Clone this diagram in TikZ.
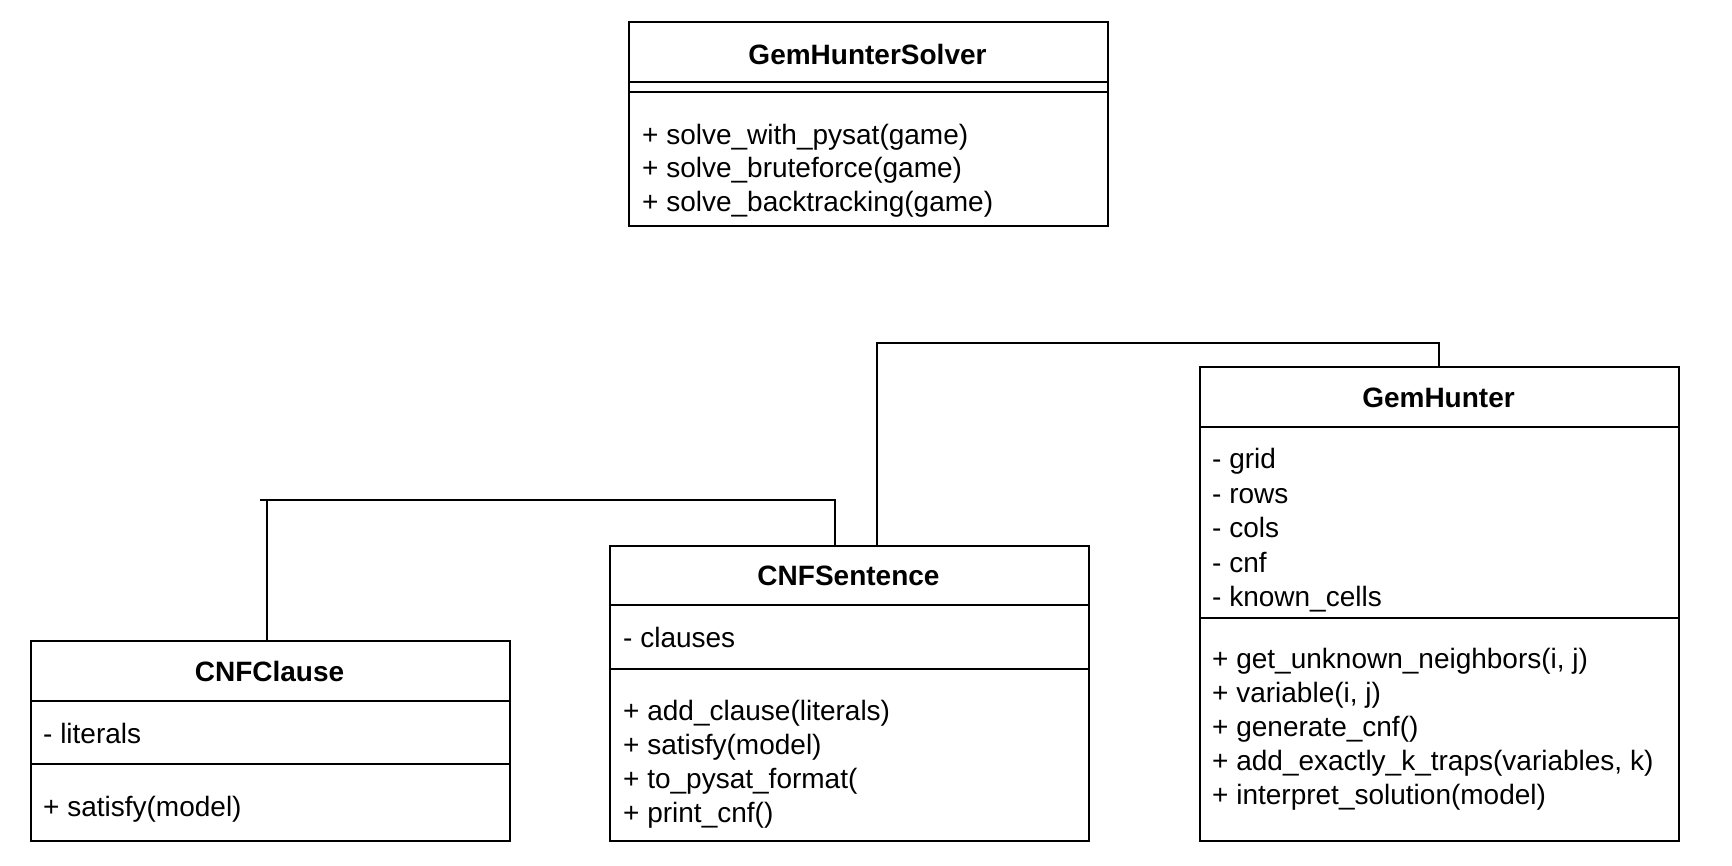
\documentclass[tikz,border=0pt]{standalone}
\usepackage{fontspec}
\setmainfont{Liberation Sans}
\begin{document}
\begin{tikzpicture}[x=1pt,y=-1pt,
  box/.style={draw=black,line width=2pt,anchor=north west,inner sep=0pt,minimum width=479pt},
  sepline/.style={line width=2pt},
  conn/.style={line width=2pt},
  ttl/.style={anchor=base,font=\fontsize{28}{34}\selectfont\bfseries,inner sep=0pt},
  mem/.style={anchor=base west,font=\fontsize{28}{34}\selectfont,inner sep=0pt}]
\useasboundingbox (0,0) rectangle (1732,866);
\fill[white] (0,0) rectangle (1732,866);

% GemHunterSolver
\node[box,minimum height=204pt] (solver) at (628,21) {};
\draw[sepline] (628,82) -- (1107,82);
\draw[sepline] (628,92) -- (1107,92);
\node[ttl] (solverT) at (867.5,64.5) {GemHunterSolver};
\node[mem] (sm1) at (642,144.5) {+ solve\_with\_pysat(game)};
\node[mem] (sm2) at (642,177.5) {+ solve\_bruteforce(game)};
\node[mem] (sm3) at (642,211.5) {+ solve\_backtracking(game)};

% GemHunter
\node[box,minimum height=474pt] (gh) at (1199,366) {};
\draw[sepline] (1199,427) -- (1678,427);
\draw[sepline] (1199,618) -- (1678,618);
\node[ttl] (ghT) at (1438.5,407.5) {GemHunter};
\node[mem] (ga1) at (1212,468.5) {- grid};
\node[mem] (ga2) at (1212,503) {- rows};
\node[mem] (ga3) at (1212,537.5) {- cols};
\node[mem] (ga4) at (1212,572) {- cnf};
\node[mem] (ga5) at (1212,606.5) {- known\_cells};
\node[mem] (gm1) at (1212,668.5) {+ get\_unknown\_neighbors(i, j)};
\node[mem] (gm2) at (1212,702.5) {+ variable(i, j)};
\node[mem] (gm3) at (1212,736.5) {+ generate\_cnf()};
\node[mem] (gm4) at (1212,770.5) {+ add\_exactly\_k\_traps(variables, k)};
\node[mem] (gm5) at (1212,804.5) {+ interpret\_solution(model)};

% CNFSentence
\node[box,minimum height=295pt] (sent) at (609,545) {};
\draw[sepline] (609,605) -- (1088,605);
\draw[sepline] (609,669) -- (1088,669);
\node[ttl] (sentT) at (848.5,585.5) {CNFSentence};
\node[mem] (sa1) at (623,647.5) {- clauses};
\node[mem] (sm1b) at (623,720.5) {+ add\_clause(literals)};
\node[mem] (sm2b) at (623,754.5) {+ satisfy(model)};
\node[mem] (sm3b) at (623,788.5) {+ to\_pysat\_format(};
\node[mem] (sm4b) at (623,822.5) {+ print\_cnf()};

% CNFClause
\node[box,minimum height=200pt] (clause) at (30,640) {};
\draw[sepline] (30,701) -- (509,701);
\draw[sepline] (30,764) -- (509,764);
\node[ttl] (clauseT) at (269.5,681.5) {CNFClause};
\node[mem] (ca1) at (43,743.5) {- literals};
\node[mem] (cm1) at (43,816.5) {+ satisfy(model)};

% connectors
\coordinate (j1) at (877,343);
\coordinate (j2) at (260,500);
\coordinate (ghTop) at (1439,366);
\coordinate (sentTop1) at (877,545);
\coordinate (sentTop2) at (835,545);
\coordinate (clauseTop) at (267,640);
\draw[conn] (ghTop) |- (j1) -- (sentTop1);
\draw[conn] (sentTop2) |- (j2);
\draw[conn] (clauseTop) -- (clauseTop |- j2);
\end{tikzpicture}
\end{document}
